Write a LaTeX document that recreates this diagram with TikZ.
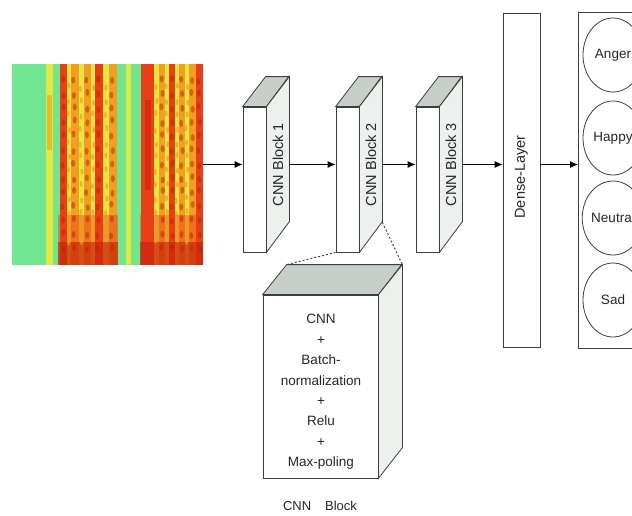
\documentclass[tikz,border=0pt]{standalone}
\usepackage{fontspec}
\setmainfont{Liberation Sans}
\usetikzlibrary{arrows.meta,calc,shapes.geometric}

\definecolor{edgegray}{RGB}{62,62,62}
\definecolor{topgray}{RGB}{200,206,200}
\definecolor{sidegray}{RGB}{236,241,237}
\definecolor{specgreen}{RGB}{112,230,145}
\definecolor{specyellow}{RGB}{226,232,64}
\definecolor{specorange}{RGB}{242,158,32}
\definecolor{specred}{RGB}{236,62,22}
\definecolor{specdark}{RGB}{196,30,8}

\tikzset{
  face/.style={draw=edgegray, line width=0.8pt, fill=white, inner sep=0pt},
  topface/.style={draw=edgegray, line width=0.8pt, fill=topgray},
  sideface/.style={draw=edgegray, line width=0.8pt, fill=sidegray},
  arr/.style={-{Latex[length=8pt,width=7pt]}, line width=0.9pt, black},
  blocklabel/.style={rotate=90, font=\fontsize{14.5}{16}\selectfont, text=black!85},
  emotion/.style={ellipse, draw=edgegray, line width=0.8pt, minimum width=60pt,
    minimum height=74pt, inner sep=0pt, font=\fontsize{13.5}{16}\selectfont, text=black!85},
  zoomline/.style={draw=edgegray, line width=0.9pt, dash pattern=on 2pt off 2pt}
}

% 3D block: name, x, y, label
\newcommand{\cnnblock}[4]{%
  \node[face, minimum width=23pt, minimum height=145pt] (#1) at (#2,#3) {};
  \draw[topface] (#1.north west) -- ++(23,-30) -- ++(23,0) -- (#1.north east) -- cycle;
  \draw[sideface] (#1.north east) -- ++(23,-30) -- ++(0,145) -- (#1.south east) -- cycle;
  \coordinate (#1r) at ($(#1.south east)+(23,-30)$);
  \node[blocklabel] (#1t) at ($(#1.east)+(11.5,-15)$) {#4};
}

\begin{document}
\begin{tikzpicture}[x=1pt, y=-1pt]
  \clip (0,0) rectangle (632,515);
  \fill[white] (0,0) rectangle (632,515);

  % spectrogram
  \foreach \xa/\xb/\col in {12/46/specgreen, 46/53/specyellow, 53/60/specgreen,
      60/67/specred, 67/71/specyellow, 71/79/specorange, 79/84/specyellow,
      84/91/specorange, 91/95/specyellow, 95/103/specred, 103/109/specyellow,
      109/117/specorange, 117/126/specgreen, 126/131/specyellow, 131/141/specgreen,
      141/154/specred, 154/159/specyellow, 159/165/specorange, 165/169/specyellow,
      169/175/specred, 175/179/specyellow, 179/185/specorange, 185/189/specyellow,
      189/196/specorange, 196/203/specred}
    \fill[\col] (\xa,64) rectangle (\xb,265);
  \foreach \xa/\xb in {58/118, 140/203} {
    \fill[specred, opacity=0.45] (\xa,215) rectangle (\xb,265);
    \fill[specdark, opacity=0.6] (\xa,242) rectangle (\xb,265);
  }
  \fill[specorange, opacity=0.6] (47,95) rectangle (52,150);
  \fill[specdark, opacity=0.5] (145,100) rectangle (151,190);
  \pgfmathsetseed{7}
  \foreach \xs in {63,74,87,98,112,162,172,182,192,199}
    \foreach \ys in {80,94,...,250}
      \fill[specdark, opacity=0.5] ({\xs+rand},{\ys+2*rand}) ellipse (2 and 3.5);
  \foreach \xs in {69,81,93,106,156,167,177,187}
    \foreach \ys in {87,101,...,250}
      \fill[specorange, opacity=0.7] ({\xs+rand},{\ys+2*rand}) ellipse (1.5 and 3);
  \node[inner sep=0pt, minimum width=191pt, minimum height=201pt] (spec) at (107.5,164.5) {};

  % CNN blocks
  \cnnblock{b1}{254.5}{179.5}{CNN Block 1}
  \cnnblock{b2}{347.5}{179.5}{CNN Block 2}
  \cnnblock{b3}{427.5}{179.5}{CNN Block 3}

  % dense layer and outputs
  \node[face, minimum width=37pt, minimum height=334pt] (dense) at (521.5,180) {};
  \node[blocklabel] (densetext) at (521.5,177) {Dense-Layer};
  \node[face, anchor=north west, minimum width=64pt, minimum height=336pt] (outbox) at (578,12) {};
  \node[emotion] (anger) at (613,55) {Anger};
  \node[emotion] (happy) at (613,138) {Happy};
  \node[emotion] (neutral) at (613,218) {Neutral};
  \node[emotion] (sad) at (613,300) {Sad};

  % arrows
  \draw[arr] (spec.east) -- (spec.east -| b1.west);
  \draw[arr] (b1r |- spec.east) -- (spec.east -| b2.west);
  \draw[arr] (b2r |- spec.east) -- (spec.east -| b3.west);
  \draw[arr] (b3r |- spec.east) -- (spec.east -| dense.west);
  \draw[arr] (dense.east |- spec.east) -- (spec.east -| outbox.west);

  % detail of a block
  \node[face, minimum width=115pt, minimum height=183pt] (detail) at (320.5,386.5) {};
  \draw[topface] (detail.north west) -- ++(24,-30) -- ++(115,0) -- (detail.north east) -- cycle;
  \draw[sideface] (detail.north east) -- ++(24,-30) -- ++(0,183) -- (detail.south east) -- cycle;
  \coordinate (detailtl) at ($(detail.north west)+(24,-30)$);
  \coordinate (detailtr) at ($(detail.north east)+(24,-30)$);
  \node[align=center, font=\fontsize{13.5}{20.4}\selectfont, text=black!85] (detailtext)
    at (321,392) {CNN\\+\\Batch-\\normalization\\+\\Relu\\+\\Max-poling};
  \draw[zoomline] (b2.south west) -- (detailtl);
  \draw[zoomline] (b2r) -- (detailtr);
  \node[font=\fontsize{13}{15}\selectfont, text=black!85] (caption) at (320,506) {CNN\hspace{14pt}Block};
\end{tikzpicture}
\end{document}
